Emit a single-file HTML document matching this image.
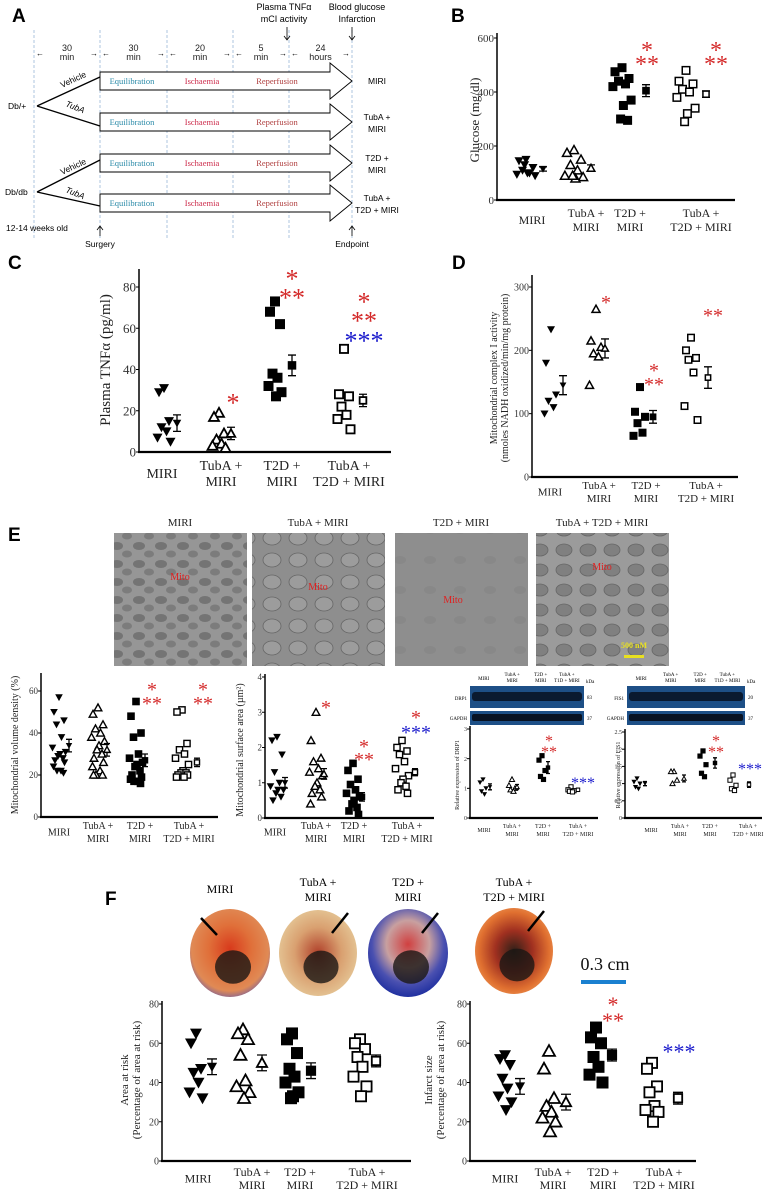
<!DOCTYPE html>
<html><head><meta charset="utf-8">
<style>
html,body{margin:0;padding:0;background:#fff;}
svg{display:block;font-family:"Liberation Serif",serif;}
.sans{font-family:"Liberation Sans",sans-serif;}
</style></head>
<body>
<svg id="fig" width="766" height="1192" viewBox="0 0 766 1192" xmlns="http://www.w3.org/2000/svg">
<defs>
  <pattern id="emA" width="22" height="18" patternUnits="userSpaceOnUse">
    <rect width="22" height="18" fill="#969696"/>
    <ellipse cx="7" cy="6" rx="6" ry="4" fill="#747474"/>
    <ellipse cx="17" cy="14" rx="5" ry="3.5" fill="#7c7c7c"/>
  </pattern>
  <pattern id="emB" width="26" height="22" patternUnits="userSpaceOnUse">
    <rect width="26" height="22" fill="#8e8e8e"/>
    <ellipse cx="12" cy="10" rx="9" ry="7" fill="#9c9c9c" stroke="#666" stroke-width="0.8"/>
  </pattern>
  <pattern id="emC" width="30" height="30" patternUnits="userSpaceOnUse">
    <rect width="30" height="30" fill="#8e8e8e"/>
    <ellipse cx="10" cy="20" rx="6" ry="4" fill="#888"/>
  </pattern>
  <pattern id="emD" width="24" height="20" patternUnits="userSpaceOnUse">
    <rect width="24" height="20" fill="#9b9b9b"/>
    <ellipse cx="12" cy="10" rx="8" ry="6" fill="#808080" stroke="#666" stroke-width="0.8"/>
  </pattern>
  <radialGradient id="h1" cx="0.5" cy="0.45" r="0.6"><stop offset="0" stop-color="#d83a1c"/><stop offset="0.45" stop-color="#e0703a"/><stop offset="0.8" stop-color="#e08a55"/><stop offset="1" stop-color="#6a5aa8"/></radialGradient>
  <radialGradient id="h2" cx="0.5" cy="0.5" r="0.6"><stop offset="0" stop-color="#b0402a"/><stop offset="0.5" stop-color="#d9a070"/><stop offset="1" stop-color="#e8d0a0"/></radialGradient>
  <radialGradient id="h3" cx="0.5" cy="0.4" r="0.6"><stop offset="0" stop-color="#d04040"/><stop offset="0.45" stop-color="#c8a0a0"/><stop offset="0.75" stop-color="#4a50b0"/><stop offset="1" stop-color="#2030a0"/></radialGradient>
  <radialGradient id="h4" cx="0.5" cy="0.5" r="0.6"><stop offset="0" stop-color="#302018"/><stop offset="0.4" stop-color="#a03020"/><stop offset="0.75" stop-color="#e07030"/><stop offset="1" stop-color="#f0a060"/></radialGradient>
</defs>
<g id="panelA"></g>
<g id="static"></g>
</svg>
<script>
// ===== data =====
const groupNames = [["MIRI"],["TubA +","MIRI"],["T2D +","MIRI"],["TubA +","T2D + MIRI"]];

const glucoseVals = [[150,145,120,110,100,95,90,100,130],[185,175,150,130,110,90,85,80,90],[490,475,450,440,430,420,370,350,300,295],[480,440,430,410,400,380,340,320,290]];
const glucoseMean = [115,118,405,392];
const glucoseSem = [8,12,22,12];
const glucoseTicks = [0,200,400,600];

const tnfVals = [[31,29,15,12,10,7,5],[19,17,9,6,4,3,2],[73,68,62,38,36,32,29,27],[50,28,27,22,18,16,11]];
const tnfMean = [14,9,42,25];
const tnfSem = [4,3,5,3];
const tnfTicks = [0,20,40,60,80];

const mciVals = [[233,180,130,120,110,100],[265,215,205,195,190,145],[142,103,95,85,70,65],[220,200,188,185,165,112,90]];
const mciMean = [145,203,95,157];
const mciSem = [15,15,10,17];
const mciTicks = [0,100,200,300];

const volVals = [[57,50,46,44,38,33,31,30,29,28,27,26,24,22,22,21],[52,49,44,42,40,38,36,34,32,30,28,26,24,22,20,20,20],[55,48,40,38,30,28,26,25,24,22,20,19,18,17,17,16],[51,50,35,32,30,28,25,22,21,21,20,20,19,19]];
const volMean = [34,32,27,26];
const volSem = [3,3,3,2];
const volTicks = [0,20,40,60];

const areaVals = [[2.3,2.2,1.8,1.3,1.0,0.9,0.8,0.8,0.7,0.6,0.5],[3.0,2.2,1.7,1.6,1.4,1.3,1.2,1.0,0.9,0.8,0.7,0.6,0.4],[1.55,1.35,1.1,0.95,0.8,0.7,0.6,0.5,0.4,0.3,0.2,0.1],[2.2,2.0,1.9,1.8,1.6,1.4,1.2,1.1,1.0,0.9,0.8,0.7]];
const areaMean = [1.0,1.25,0.6,1.3];
const areaSem = [0.15,0.15,0.12,0.1];
const areaTicks = [0,1,2,3,4];

const drpVals = [[1.3,1.2,1.0,0.9,0.8],[1.3,1.1,1.0,0.95,0.9],[2.1,1.95,1.6,1.4,1.3],[1.05,0.95,0.92,0.9,0.88]];
const drpMean = [1.05,1.05,1.7,0.95];
const drpSem = [0.1,0.08,0.2,0.05];
const drpTicks = [0,1,2,3];

const fisVals = [[1.15,1.05,1.0,0.9,0.85],[1.35,1.35,1.1,1.0],[1.95,1.8,1.55,1.3,1.2],[1.25,1.1,0.95,0.85,0.8]];
const fisMean = [1.0,1.15,1.6,0.97];
const fisSem = [0.06,0.1,0.15,0.08];
const fisTicks = [0,0.5,1.0,1.5,2.0,2.5];

const aarVals = [[65,60,47,45,40,35,32],[67,65,62,54,41,38,35,32],[65,62,55,47,43,40,35,33,32],[62,60,57,53,48,43,38,33]];
const aarMean = [48,50,46,51];
const aarSem = [4,4,4,3];
const aarTicks = [0,20,40,60,80];

const infVals = [[54,52,49,42,37,33,30,26],[56,47,32,28,25,22,20,15],[68,63,60,53,48,44,40],[50,47,38,35,28,26,25,20]];
const infMean = [38,30,54,32];
const infSem = [4,4,3,3];
const infTicks = [0,20,40,60,80];

// ===== helpers =====
const NS='http://www.w3.org/2000/svg';
const svg=document.getElementById('fig');
function E(tag,attrs,parent){const e=document.createElementNS(NS,tag);for(const k in attrs)e.setAttribute(k,attrs[k]);parent.appendChild(e);return e;}
function T(txt,attrs,parent){const e=E('text',attrs,parent);e.textContent=txt;return e;}

function marker(g,type,cx,cy,s,sw){
  let m;
  if(type===0){m=E('polygon',{points:`${cx-s},${cy-s*0.8} ${cx+s},${cy-s*0.8} ${cx},${cy+s}`,fill:'#000'},g);}
  else if(type===1){m=E('polygon',{points:`${cx-s},${cy+s*0.8} ${cx+s},${cy+s*0.8} ${cx},${cy-s}`,fill:'#fff',stroke:'#000','stroke-width':sw},g);}
  else if(type===2){m=E('rect',{x:cx-s,y:cy-s,width:2*s,height:2*s,fill:'#000'},g);}
  else {m=E('rect',{x:cx-s+sw/2,y:cy-s+sw/2,width:2*s-sw,height:2*s-sw,fill:'#fff',stroke:'#000','stroke-width':sw},g);}
  return m;
}
const jit=[0,-1,1,-0.5,0.5,-1.3,1.3,0.2,-0.2,0.8,-0.8,1.1,-1.1,0.4,-0.4,0.9,-0.9];

function drawPlot(name,c,vals,means,sems,ticks){
  const g=E('g',{},svg);
  
  
  const ys=v=>c.y0-(v/c.ymax)*(c.y0-c.yTop);
  const ya=E('line',{x1:c.ax,y1:c.y0,x2:c.ax,y2:c.yTop-c.ext,stroke:'#000','stroke-width':c.aw||1.5},g);
  
  
  const xa=E('line',{x1:c.ax-1,y1:c.y0,x2:c.x1,y2:c.y0,stroke:'#000','stroke-width':(c.aw||1.5)+0.7},g);
  
  
  ticks.forEach(t=>{
    const y=ys(t);
    E('line',{x1:c.ax-3,y1:y,x2:c.ax,y2:y,stroke:'#000','stroke-width':1},g);
    const tl=T(String(t),{x:c.ax-3,y:y+c.tf*0.35,'font-size':c.tf,'text-anchor':'end',fill:'#333'},g);
    
    
  });
  vals.forEach((arr,gi)=>{
    arr.forEach((v,i)=>{
      const m=marker(g,gi,c.px[gi]+jit[i%jit.length]*c.jw,ys(v),c.ms,c.sw);
      
      
    });
    const mx=c.mx[gi],my=ys(means[gi]),hi=ys(means[gi]+sems[gi]),lo=ys(means[gi]-sems[gi]);
    const eb=E('path',{d:`M${mx},${hi}V${lo}M${mx-c.cap},${hi}H${mx+c.cap}M${mx-c.cap},${lo}H${mx+c.cap}`,stroke:'#000','stroke-width':1.3,fill:'none'},g);
    
    
    const mm=marker(g,gi,mx,my,c.ms*0.85,c.sw);
    
    
    const lines=groupNames[gi];
    const lab=E('text',{'font-size':c.lf,'text-anchor':'middle',fill:'#222'},g);
    
    
    if(lines.length===1){const ts=E('tspan',{x:c.lx[gi],y:(c.ly1+c.ly2)/2},lab);ts.textContent=lines[0];}
    else lines.forEach((l,k)=>{const ts=E('tspan',{x:c.lx[gi],y:k?c.ly2:c.ly1},lab);ts.textContent=l;});
  });
  const yt=E('text',{'font-size':c.yf,'text-anchor':'middle',fill:'#222',transform:`translate(${c.ytx},${c.yty}) rotate(-90)`},g);
  
  
  c.ytitle.forEach((l,k)=>{const ts=E('tspan',{x:0,y:k*c.yf*1.1},yt);ts.textContent=l;});
}

// ===== charts =====
drawPlot('glucose-chart',{ax:497,x1:735,y0:200,yTop:38,ymax:600,ext:5,px:[526,574,622,686],mx:[543,591,646,706],jw:7,ms:4.5,sw:1.5,cap:4,tf:11,lf:12,lx:[532,586,630,701],ly1:217,ly2:231,ytx:479,yty:120,yf:13,ytitle:['Glucose (mg/dl)']},glucoseVals,glucoseMean,glucoseSem,glucoseTicks);
drawPlot('tnf-chart',{ax:139,x1:391,y0:452,yTop:287,ymax:80,ext:18,px:[164,219,275,344],mx:[177,231,292,363],jw:5,ms:5,sw:1.8,cap:4,tf:13,lf:14,lx:[162,221,282,349],ly1:470,ly2:486,ytx:110,yty:360,yf:15,ytitle:['Plasma TNFα (pg/ml)']},tnfVals,tnfMean,tnfSem,tnfTicks);
drawPlot('complex1-chart',{ax:532,x1:738,y0:477,yTop:287,ymax:300,ext:12,px:[551,596,640,691],mx:[563,605,653,708],jw:5,ms:4,sw:1.5,cap:4,tf:10,lf:11,lx:[550,599,646,706],ly1:489,ly2:502,ytx:497,yty:378,yf:10,ytitle:['Mitochondrial complex I activity','(nmoles NADH oxidized/min/mg protein)']},mciVals,mciMean,mciSem,mciTicks);
drawPlot('volume-density-chart',{ax:41,x1:218,y0:817,yTop:691,ymax:60,ext:18,px:[59,98,136,182],mx:[69,107,145,197],jw:5,ms:3.8,sw:1.4,cap:3,tf:9,lf:10,lx:[59,98,140,189],ly1:829,ly2:842,ytx:18,yty:745,yf:10,ytitle:['Mitochondrial volume density (%)']},volVals,volMean,volSem,volTicks);
drawPlot('surface-area-chart',{ax:265,x1:434,y0:818,yTop:677,ymax:4,ext:3,px:[277,316,353,402],mx:[285,324,362,415],jw:5,ms:3.8,sw:1.4,cap:3,tf:9,lf:10,lx:[275,316,354,407],ly1:829,ly2:842,ytx:243,yty:750,yf:10,ytitle:['Mitochondrial surface area (µm²)']},areaVals,areaMean,areaSem,areaTicks);
drawPlot('drp1-chart',{ax:470,x1:598,y0:818,yTop:729,ymax:3,ext:3,px:[483,512,542,571],mx:[490,517,548,578],jw:3,ms:2.6,sw:1,cap:2,tf:6,lf:6,lx:[484,512,543,578],ly1:828,ly2:836,ytx:459,yty:775,yf:6,ytitle:['Relative expression of DRP1']},drpVals,drpMean,drpSem,drpTicks);
drawPlot('fis1-chart',{ax:625,x1:762,y0:818,yTop:732,ymax:2.5,ext:3,px:[637,674,703,733],mx:[645,684,715,749],jw:3,ms:2.6,sw:1,cap:2,tf:6,lf:6,lx:[651,680,710,748],ly1:828,ly2:836,ytx:620,yty:775,yf:6,ytitle:['Relative expression of FIS1']},fisVals,fisMean,fisSem,fisTicks);
drawPlot('area-at-risk-chart',{ax:162,x1:411,y0:1161,yTop:1004,ymax:80,ext:3,px:[196,243,292,360],mx:[212,262,311,376],jw:5,ms:6,sw:1.8,cap:5,tf:10,lf:12,lx:[198,252,300,367],ly1:1176,ly2:1189,ytx:128,yty:1080,yf:11,ytitle:['Area at risk','(Percentage of area at risk)']},aarVals,aarMean,aarSem,aarTicks);
drawPlot('infarct-size-chart',{ax:470,x1:696,y0:1161,yTop:1004,ymax:80,ext:3,px:[505,549,596,652],mx:[520,566,612,678],jw:5,ms:6,sw:1.8,cap:5,tf:10,lf:12,lx:[505,553,603,664],ly1:1176,ly2:1189,ytx:432,yty:1080,yf:11,ytitle:['Infarct size','(Percentage of area at risk)']},infVals,infMean,infSem,infTicks);

// ===== stars =====
function star(txt,x,cy,fs,col){
  const s=T(txt,{x:x,y:cy+fs*0.55,'font-size':fs,'text-anchor':'middle',fill:col},svg);
  
  
}
const R='#d42a2a',B='#1a1acc';
star('*',647,45,24,R);star('**',647,59,24,R);
star('*',716,45,24,R);star('**',716,59,24,R);
star('*',292,273,26,R);star('**',292,292,26,R);
star('*',233,397,26,R);
star('*',364,296,26,R);star('**',364,315,26,R);star('***',364,335,26,B);
star('*',606,298,20,R);
star('*',654,366,20,R);star('**',654,380,20,R);
star('**',713,311,20,R);
star('*',152,685,20,R);star('**',152,699,20,R);
star('*',203,685,20,R);star('**',203,699,20,R);
star('*',326,703,20,R);
star('*',364,742,20,R);star('**',364,755,20,R);
star('*',416,713,20,R);star('***',416,728,20,B);
star('*',549,737,16,R);star('**',549,748,16,R);
star('***',583,779,16,B);
star('*',716,737,16,R);star('**',716,748,16,R);
star('***',750,765,16,B);
star('*',613,1000,22,R);star('**',613,1016,22,R);
star('***',679,1047,22,B);

// ===== panel letters =====
[['A',12,22],['B',451,22],['C',8,269],['D',452,269],['E',8,541],['F',105,905]].forEach(p=>{
  const l=T(p[0],{x:p[1],y:p[2],'font-size':19,'font-weight':'bold',class:'sans',fill:'#000'},svg);
  
  
});

// ===== panel A diagram =====
const A=document.getElementById('panelA');
[34,100,167,233,289,352].forEach(x=>{
  const d=E('line',{x1:x,y1:30,x2:x,y2:240,stroke:'#9ab8d8','stroke-width':0.8,'stroke-dasharray':'3,2'},A);
  
  
});
[[34,100,'30','min'],[100,167,'30','min'],[167,233,'20','min'],[233,289,'5','min'],[289,352,'24','hours']].forEach(s=>{
  const cx=(s[0]+s[1])/2;
  T(s[2],{x:cx,y:51,'font-size':9,'text-anchor':'middle',class:'sans',fill:'#222'},A);
  T(s[3],{x:cx,y:60,'font-size':9,'text-anchor':'middle',class:'sans',fill:'#222'},A);
  T('←',{x:s[0]+6,y:56,'font-size':8,'text-anchor':'middle',class:'sans'},A);
  T('→',{x:s[1]-6,y:56,'font-size':8,'text-anchor':'middle',class:'sans'},A);
});
T('Plasma TNFα',{x:284,y:10,'font-size':9,'text-anchor':'middle',class:'sans'},A);
T('mCI activity',{x:284,y:22,'font-size':9,'text-anchor':'middle',class:'sans'},A);
T('Blood glucose',{x:357,y:10,'font-size':9,'text-anchor':'middle',class:'sans'},A);
T('Infarction',{x:357,y:22,'font-size':9,'text-anchor':'middle',class:'sans'},A);
E('path',{d:'M287,27V40M284,36L287,40L290,36M352,27V40M349,36L352,40L355,36',stroke:'#000',fill:'none','stroke-width':0.8},A);
const rowLabels=[['MIRI'],['TubA +','MIRI'],['T2D +','MIRI'],['TubA +','T2D + MIRI']];
[81,122,163,203].forEach((c,i)=>{
  const ar=E('polygon',{points:`100,${c-9} 330,${c-9} 330,${c-18} 352,${c} 330,${c+18} 330,${c+9} 100,${c+9}`,fill:'#fff',stroke:'#000','stroke-width':0.9},A);
  
  
  T('Equilibration',{x:132,y:c+3,'font-size':8.5,'text-anchor':'middle',fill:'#2a8aa8'},A);
  T('Ischaemia',{x:202,y:c+3,'font-size':8.5,'text-anchor':'middle',fill:'#cc2a4a'},A);
  T('Reperfusion',{x:277,y:c+3,'font-size':8.5,'text-anchor':'middle',fill:'#b04040'},A);
  const L=rowLabels[i];
  if(L.length===1)T(L[0],{x:377,y:c+3,'font-size':8.5,'text-anchor':'middle',class:'sans'},A);
  else{T(L[0],{x:377,y:c-2,'font-size':8.5,'text-anchor':'middle',class:'sans'},A);T(L[1],{x:377,y:c+10,'font-size':8.5,'text-anchor':'middle',class:'sans'},A);}
});
E('path',{d:'M37,106L100,77M37,106L100,126M37,192L100,160M37,192L100,206',stroke:'#000','stroke-width':1.3,fill:'none'},A);
T('Db/+',{x:8,y:109,'font-size':8.5,class:'sans'},A);
T('Db/db',{x:5,y:195,'font-size':8.5,class:'sans'},A);
T('Vehicle',{x:62,y:88,'font-size':8.5,class:'sans',transform:'rotate(-25 62 88)'},A);
T('TubA',{x:65,y:106,'font-size':8.5,'font-style':'italic',class:'sans',transform:'rotate(22 65 106)'},A);
T('Vehicle',{x:62,y:175,'font-size':8.5,class:'sans',transform:'rotate(-25 62 175)'},A);
T('TubA',{x:65,y:192,'font-size':8.5,'font-style':'italic',class:'sans',transform:'rotate(22 65 192)'},A);
T('12-14 weeks old',{x:6,y:231,'font-size':8.5,class:'sans'},A);
E('path',{d:'M100,236V226M97,230L100,226L103,230M352,236V226M349,230L352,226L355,230',stroke:'#000',fill:'none','stroke-width':0.8},A);
T('Surgery',{x:100,y:247,'font-size':8.5,'text-anchor':'middle',class:'sans'},A);
T('Endpoint',{x:352,y:247,'font-size':8.5,'text-anchor':'middle',class:'sans'},A);

// ===== panel E images =====
const S=document.getElementById('static');
const em=[[114,'emA','MIRI'],[252,'emB','TubA + MIRI'],[395,'emC','T2D + MIRI'],[536,'emD','TubA + T2D + MIRI']];
const mitoY=[580,590,603,570];
em.forEach((e,i)=>{
  const r=E('rect',{x:e[0],y:533,width:133,height:133,fill:`url(#${e[1]})`},S);
  
  
  T(e[2],{x:e[0]+66,y:526,'font-size':11,'text-anchor':'middle',fill:'#222'},S);
  T('Mito',{x:e[0]+66+(i===2?-8:0),y:mitoY[i],'font-size':10,'text-anchor':'middle',fill:'#e02020'},S);
});
T('500 nM',{x:634,y:648,'font-size':8,'text-anchor':'middle',fill:'#e8e020','font-weight':'bold'},S);
E('rect',{x:624,y:655,width:20,height:3,fill:'#e8e020'},S);

// ===== western blots =====
function blot(x,w,lab,kd){
  const g=E('g',{},S);
  
  
  E('rect',{x:x,y:686,width:w,height:22,fill:'#1d4f86'},g);
  E('rect',{x:x+2,y:692,width:w-4,height:9,fill:'#0a1a30',rx:3},g);
  E('rect',{x:x,y:711,width:w,height:14,fill:'#1d4f86'},g);
  E('rect',{x:x+2,y:714,width:w-4,height:7,fill:'#081222',rx:2},g);
  T(lab,{x:x-3,y:700,'font-size':5,'text-anchor':'end'},g);
  T('GAPDH',{x:x-3,y:720,'font-size':5,'text-anchor':'end'},g);
  T(kd,{x:x+w+3,y:699,'font-size':5},g);
  T('37',{x:x+w+3,y:720,'font-size':5},g);
  T('kDa',{x:x+w+2,y:683,'font-size':5},g);
  const hx=[0.12,0.37,0.62,0.85];
  [['MIRI'],['TubA +','MIRI'],['T2D +','MIRI'],['TubA +','T1D + MIRI']].forEach((h,k)=>{
    const cx=x+w*hx[k];
    if(h.length===1)T(h[0],{x:cx,y:680,'font-size':5,'text-anchor':'middle'},g);
    else{T(h[0],{x:cx,y:676,'font-size':5,'text-anchor':'middle'},g);T(h[1],{x:cx,y:682,'font-size':5,'text-anchor':'middle'},g);}
  });
}
blot(470,114,'DRP1','83');
blot(627,118,'FIS1','20');

// ===== hearts =====
[[230,953,40,44,'h1','MIRI',''],[318,953,39,43,'h2','TubA +','MIRI'],[408,953,40,44,'h3','T2D +','MIRI'],[514,951,39,43,'h4','TubA +','T2D + MIRI']].forEach((h,i)=>{
  const e=E('ellipse',{cx:h[0],cy:h[1],rx:h[2],ry:h[3],fill:`url(#${h[4]})`},S);
  
  
  E('ellipse',{cx:h[0]+3,cy:h[1]+14,rx:h[2]*0.45,ry:h[3]*0.38,fill:'#1a1614',opacity:0.8},S);
  const ax=i===0?h[0]-25:h[0]+22;
  E('path',{d:i===0?`M${ax-4},${h[1]-35}L${ax+12},${h[1]-18}`:`M${ax+8},${h[1]-40}L${ax-8},${h[1]-20}`,stroke:'#000','stroke-width':2.5},S);
  if(h[6]===''){T(h[5],{x:h[0]-10,y:893,'font-size':12,'text-anchor':'middle'},S);}
  else{T(h[5],{x:h[0],y:886,'font-size':12,'text-anchor':'middle'},S);T(h[6],{x:h[0],y:901,'font-size':12,'text-anchor':'middle'},S);}
});
T('0.3 cm',{x:605,y:970,'font-size':18,'text-anchor':'middle',fill:'#111'},S);
const sb=E('rect',{x:581,y:980,width:45,height:4,fill:'#1a80d0'},S);


</script>
</body></html>
